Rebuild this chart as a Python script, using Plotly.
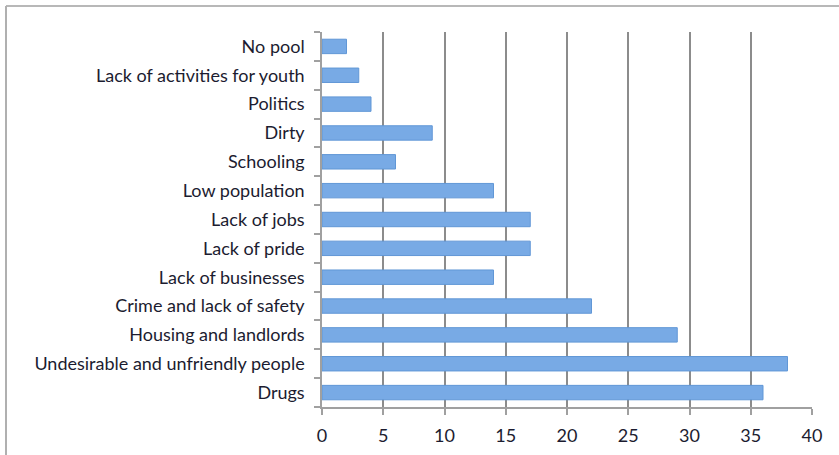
import plotly.graph_objects as go

categories = ["Drugs", "Undesirable and unfriendly people", "Housing and landlords",
              "Crime and lack of safety", "Lack of businesses", "Lack of pride",
              "Lack of jobs", "Low population", "Schooling", "Dirty", "Politics",
              "Lack of activities for youth", "No pool"]
values = [36, 38, 29, 22, 14, 17, 17, 14, 6, 9, 4, 3, 2]
x_ticks = [0, 5, 10, 15, 20, 25, 30, 35, 40]

W, H = 839, 455
L, R, T, B = 322, 27, 32, 48
pw, ph = W - L - R, H - T - B

fig = go.Figure(go.Bar(
    y=categories, x=values, orientation="h",
    marker=dict(color="#78aae5", line=dict(color="#6197d6", width=1)),
    width=0.5,
))

font = dict(family="Lato, Open Sans, sans-serif", size=18, color="#1c1c30")

fig.update_layout(
    width=W, height=H,
    margin=dict(l=L, r=R, t=T, b=B, autoexpand=False),
    paper_bgcolor="white", plot_bgcolor="white",
    showlegend=False,
    font=font,
    bargap=0.5,
    xaxis=dict(range=[0, 40], tickvals=x_ticks, showgrid=True, gridcolor="#8c8c8c",
               gridwidth=1.5, showline=True, linecolor="#a0a0a0", linewidth=1.5,
               ticks="outside", ticklen=6, tickcolor="#a0a0a0", tickwidth=1.5,
               ticklabelstandoff=6, zeroline=False, fixedrange=True, automargin=False),
    yaxis=dict(categoryorder="array", categoryarray=categories,
               range=[-0.5, len(categories) - 0.5],
               showline=True, linecolor="#a0a0a0", linewidth=1.5,
               ticks="outside", ticklen=6, tickcolor="#a0a0a0", tickwidth=1.5,
               tickson="boundaries", ticklabelstandoff=12, showgrid=False,
               fixedrange=True, automargin=False),
    shapes=[
        dict(type="line", xref="paper", yref="paper",
             x0=(6 - L) / pw, x1=(W - L) / pw, y0=(H - B - 6) / ph, y1=(H - B - 6) / ph,
             line=dict(color="#b8b8b8", width=2)),
        dict(type="line", xref="paper", yref="paper",
             x0=(6 - L) / pw, x1=(6 - L) / pw, y0=(H - B - 6) / ph, y1=(H - B - H) / ph,
             line=dict(color="#b0b0b0", width=2)),
    ],
)

fig.write_html("out.html", config={"displayModeBar": False},
               post_script="document.body.style.margin='0px';")
